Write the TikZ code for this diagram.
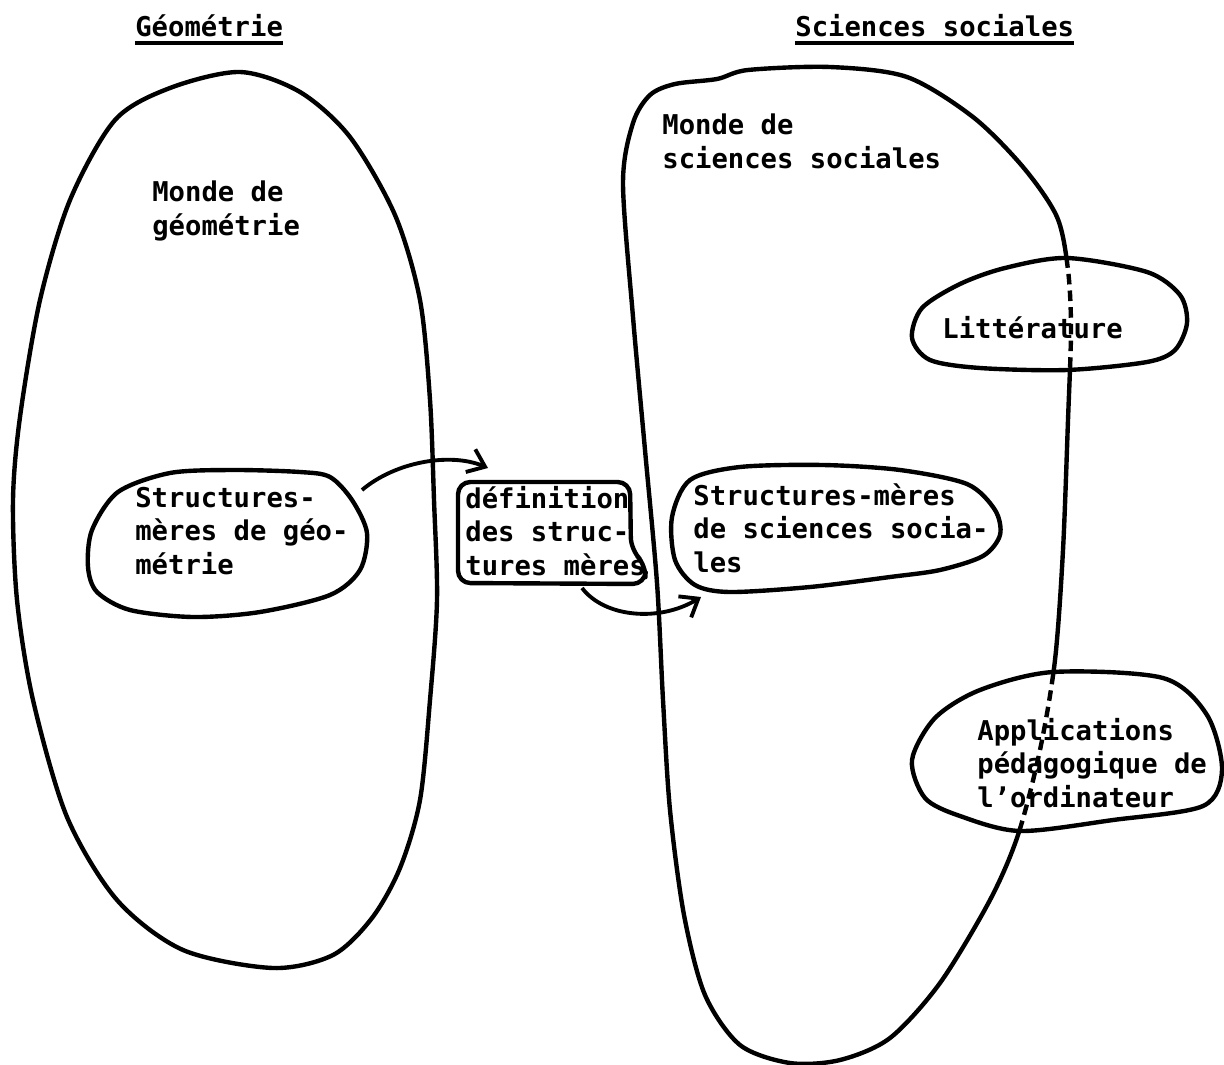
\documentclass[tikz,border=0pt]{standalone}
\usepackage{fontspec}
\newfontfamily\typew{DejaVu Sans Mono}[BoldFont={DejaVu Sans Mono Bold}]
\usetikzlibrary{arrows.meta}
\begin{document}
\begin{tikzpicture}[x={(0.02cm,0)},y={(0,-0.02cm)},
  blob/.style={line width=2.5pt,line join=round},
  txt/.style={inner sep=0pt,anchor=base west,align=left,font=\typew\bfseries\fontsize{15.5pt}{18.9pt}\selectfont},
  ttl/.style={inner sep=0pt,anchor=base west,font=\typew\bfseries\fontsize{15.5pt}{18.9pt}\selectfont},
  link/.style={line width=2.2pt,-{Straight Barb[length=9pt,width=14pt,line width=2.2pt]}},
  dashpart/.style={line width=2.5pt,dash pattern=on 6pt off 3.5pt}]
\useasboundingbox (0,0) rectangle (1224,1065);
\fill[white] (0,0) rectangle (1224,1065);

\def\bigL{plot[smooth cycle] coordinates {(240,72) (300,92) (350,137) (395,215) (420,300) (430,400) (434,500) (437,600) (430,700) (420,800) (400,868) (372,918) (333,955) (273,968) (183,950) (117,900) (67,817) (33,700) (17,600) (13,500) (20,417) (40,300) (70,200) (115,120) (170,88)}}
\def\bigR{plot[smooth cycle] coordinates {(830,67) (907,77) (973,117) (1023,167) (1057,217) (1068,270) (1071,330) (1068,420) (1063,550) (1055,660) (1040,750) (1018,835) (990,900) (940,983) (890,1038) (840,1060) (790,1063) (740,1045) (705,995) (684,915) (670,810) (663,700) (657,583) (645,450) (633,317) (623,183) (633,123) (650,95) (675,84) (717,79) (748,70)}}
\def\litt{plot[smooth cycle] coordinates {(1067,258) (1147,272) (1180,295) (1187,323) (1175,350) (1147,362) (1067,370) (980,368) (930,360) (912,338) (922,308) (960,284) (1005,268)}}
\def\appl{plot[smooth cycle] coordinates {(1053,672) (1163,678) (1207,715) (1222,770) (1203,806) (1113,820) (1020,831) (960,816) (925,798) (912,760) (935,718) (980,690)}}
\def\sgeo{plot[smooth cycle] coordinates {(233,470) (300,472) (330,477) (352,500) (367,533) (360,570) (330,595) (260,612) (193,617) (130,610) (97,592) (88,567) (92,530) (118,492) (170,473)}}
\def\ssoc{plot[smooth cycle] coordinates {(823,465) (900,470) (967,484) (995,510) (1000,535) (983,556) (940,570) (890,577) (810,587) (730,592) (695,585) (675,560) (672,517) (690,480) (740,467)}}

% titles
\node[ttl] (tgeo) at (135,36) {Géométrie};
\node[ttl] (tsoc) at (795,36) {Sciences sociales};
\draw[line width=2pt] ([yshift=-4pt]tgeo.base west) -- ([yshift=-4pt]tgeo.base east);
\draw[line width=2pt] ([yshift=-4pt]tsoc.base west) -- ([yshift=-4pt]tsoc.base east);

% big worlds
\draw[blob] \bigL;
\draw[blob] \bigR;
\fill[white] \litt;
\fill[white] \appl;
\begin{scope}
  \clip \litt;
  \draw[dashpart] \bigR;
\end{scope}
\begin{scope}
  \clip \appl;
  \draw[dashpart] \bigR;
\end{scope}
\draw[blob] \litt;
\draw[blob] \appl;
\draw[blob] \sgeo;
\draw[blob] \ssoc;
\draw[blob,rounded corners=7pt] (458,482) -- (630,482) -- (631,550) -- (646,565) -- (645,584) -- (458,583) -- cycle;

% texts (base anchor = baseline of the last line)
\node[txt] (mgeo) at (152,235) {Monde de\\géométrie};
\node[txt] (msoc) at (662,168) {Monde de\\sciences sociales};
\node[txt] (strgeo) at (135,574) {Structures-\\mères de géo-\\métrie};
\node[txt] (defi) at (465,575) {définition\\des struc-\\tures mères};
\node[txt] (strsoc) at (693,572) {Structures-mères\\de sciences socia-\\les};
\node[txt] (lit) at (942,338) {Littérature};
\node[txt] (app) at (977,807) {Applications\\pédagogique de\\l’ordinateur};

% arrows
\coordinate (geoOut) at (362,490);
\coordinate (defIn) at (488,468);
\coordinate (defOut) at (582,588);
\coordinate (socIn) at (701,597);
\draw[link] (geoOut) .. controls (395,462) and (450,452) .. (defIn);
\draw[link] (defOut) .. controls (605,618) and (660,622) .. (socIn);
\end{tikzpicture}
\end{document}
